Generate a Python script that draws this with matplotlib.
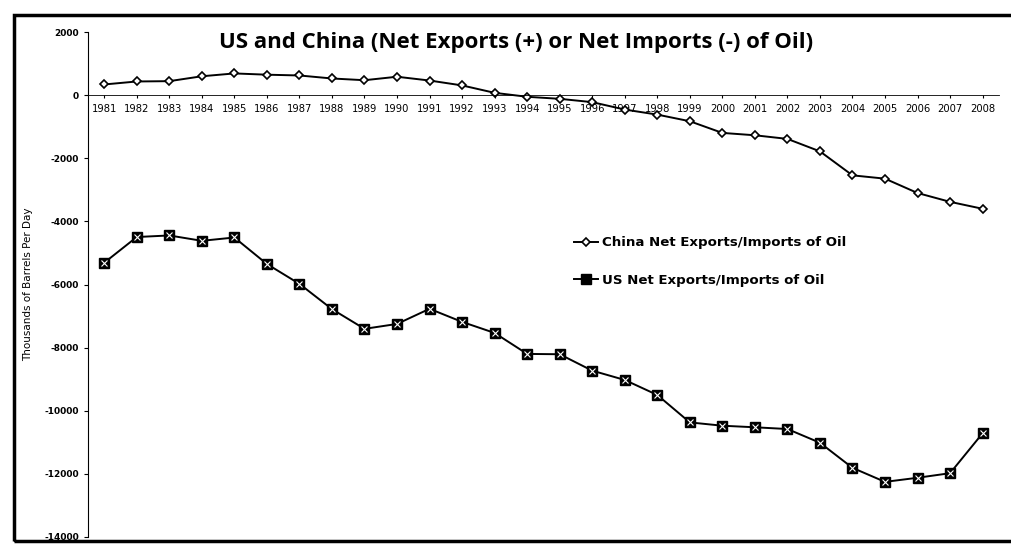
import matplotlib.pyplot as plt
from matplotlib.patches import Rectangle

years = list(range(1981, 2009))
china = [340, 435, 445, 600, 690, 650, 625, 530, 475, 585, 465, 310, 75, -50,
         -115, -220, -455, -615, -825, -1195, -1270, -1385, -1780, -2540,
         -2645, -3100, -3380, -3600]
us = [-5310, -4495, -4445, -4615, -4510, -5350, -5980, -6780, -7405, -7250,
      -6770, -7185, -7535, -8200, -8210, -8730, -9025, -9500, -10370, -10475,
      -10525, -10580, -11015, -11810, -12255, -12125, -11980, -10715]
yticks = list(range(-14000, 2001, 2000))

fig = plt.figure(figsize=(10.11, 5.44), dpi=100)
ax = fig.add_axes([0.087, 0.013, 0.901, 0.928])
x = list(range(len(years)))

ax.plot(x, china, color='black', lw=1.4, marker='D', ms=4.5, mfc='white',
        mec='black', mew=1.2, label='China Net Exports/Imports of Oil')
ax.plot(x, us, color='black', lw=1.4, marker='s', ms=7, mfc='black',
        mec='black', label='US Net Exports/Imports of Oil')
ax.plot(x, us, ls='none', marker='x', ms=4, mec='white', mew=0.8)

ax.set_xlim(-0.5, 27.5)
ax.set_ylim(-14000, 2000)
ax.set_yticks(yticks)
ax.set_yticklabels([str(v) for v in yticks], fontsize=6.5, fontweight='bold')
ax.set_xticks(x)
ax.set_xticklabels([str(y) for y in years])
ax.tick_params(axis='x', length=2, pad=4, labelsize=7.2)
ax.tick_params(axis='y', length=3)
for t in ax.get_xticklabels():
    t.set_family('DejaVu Serif')

ax.spines['bottom'].set_position(('data', 0))
ax.spines['bottom'].set_linestyle((0, (2, 1)))
ax.spines['bottom'].set_linewidth(0.6)
ax.spines['top'].set_visible(False)
ax.spines['right'].set_visible(False)
ax.spines['left'].set_linewidth(0.8)

ax.set_ylabel('Thousands of Barrels Per Day', fontsize=7.5,
              family='Liberation Sans Narrow', labelpad=8)
ax.text(0.47, 0.98, 'US and China (Net Exports (+) or Net Imports (-) of Oil)',
        transform=ax.transAxes, ha='center', va='center',
        fontsize=16, fontweight='bold', family='Open Sans')

ax.legend(loc='center left', bbox_to_anchor=(0.52, 0.545), frameon=False,
          handlelength=1.8, handletextpad=0.3, labelspacing=1.85,
          prop={'weight': 'bold', 'size': 9.6})

fig.patches.append(Rectangle((0.014, 0.005), 0.99, 0.968, transform=fig.transFigure,
                             fill=False, ec='black', lw=2.5))

fig.savefig('out.png', dpi=100)
